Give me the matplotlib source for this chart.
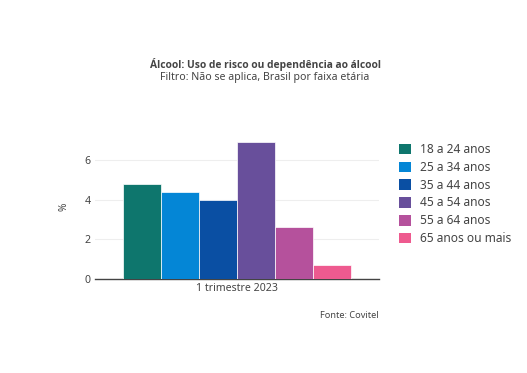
import numpy as np
import matplotlib.pyplot as plt
from matplotlib.patches import Patch

plt.rcParams['font.family'] = ['Noto Sans', 'DejaVu Sans']

# faixas etárias e valores (%)
faixas = ['18 a 24 anos', '25 a 34 anos', '35 a 44 anos',
          '45 a 54 anos', '55 a 64 anos', '65 anos ou mais']
valores = [4.8, 4.4, 4.0, 6.9, 2.6, 0.7]
cores = ['#0e766d', '#0486d6', '#0a4fa3', '#684f9b', '#b5519c', '#ee5a8f']
categoria = '1 trimestre 2023'

fig = plt.figure(figsize=(5.27, 3.73), dpi=100)
ax = fig.add_axes([0.180, 0.252, 0.539, 0.386])

n = len(valores)
largura = 0.8 / n
pos = -0.4 + largura * (np.arange(n) + 0.5)
ax.bar(pos, valores, width=largura, color=cores, edgecolor='white', linewidth=0.5, zorder=3)

ax.set_xlim(-0.5, 0.5)
ax.set_ylim(0, 7.26)
ax.set_yticks([0, 2, 4, 6])
ax.set_xticks([0])
ax.set_xticklabels([categoria])
ax.grid(axis='y', color='#eeeeee', linewidth=0.8, zorder=0)
for s in ['top', 'right', 'left']:
    ax.spines[s].set_visible(False)
ax.spines['bottom'].set_color('#444444')
ax.spines['bottom'].set_linewidth(1.0)
ax.tick_params(axis='both', length=0, labelsize=7.6, colors='#444444', pad=3)
ax.set_ylabel('%', fontsize=7.3, color='#444444', labelpad=11)

fig.text(0.503, 0.828, 'Álcool: Uso de risco ou dependência ao álcool',
         ha='center', va='center', fontsize=7.4, fontweight='bold',
         family=['Open Sans', 'DejaVu Sans'], color='#444444')
fig.text(0.503, 0.792, 'Filtro: Não se aplica, Brasil por faixa etária',
         ha='center', va='center', fontsize=7.6, color='#444444')
fig.text(0.718, 0.153, 'Fonte: Covitel', ha='right', va='center', fontsize=6.6, color='#444444')

handles = [Patch(facecolor=c, label=f) for c, f in zip(cores, faixas)]
fig.legend(handles=handles, loc='upper left', bbox_to_anchor=(0.736, 0.645),
           frameon=False, fontsize=8.6, labelcolor='#444444',
           handlelength=1.0, handleheight=1.0, handletextpad=0.8, labelspacing=0.4)

fig.savefig('out.png', dpi=100)
